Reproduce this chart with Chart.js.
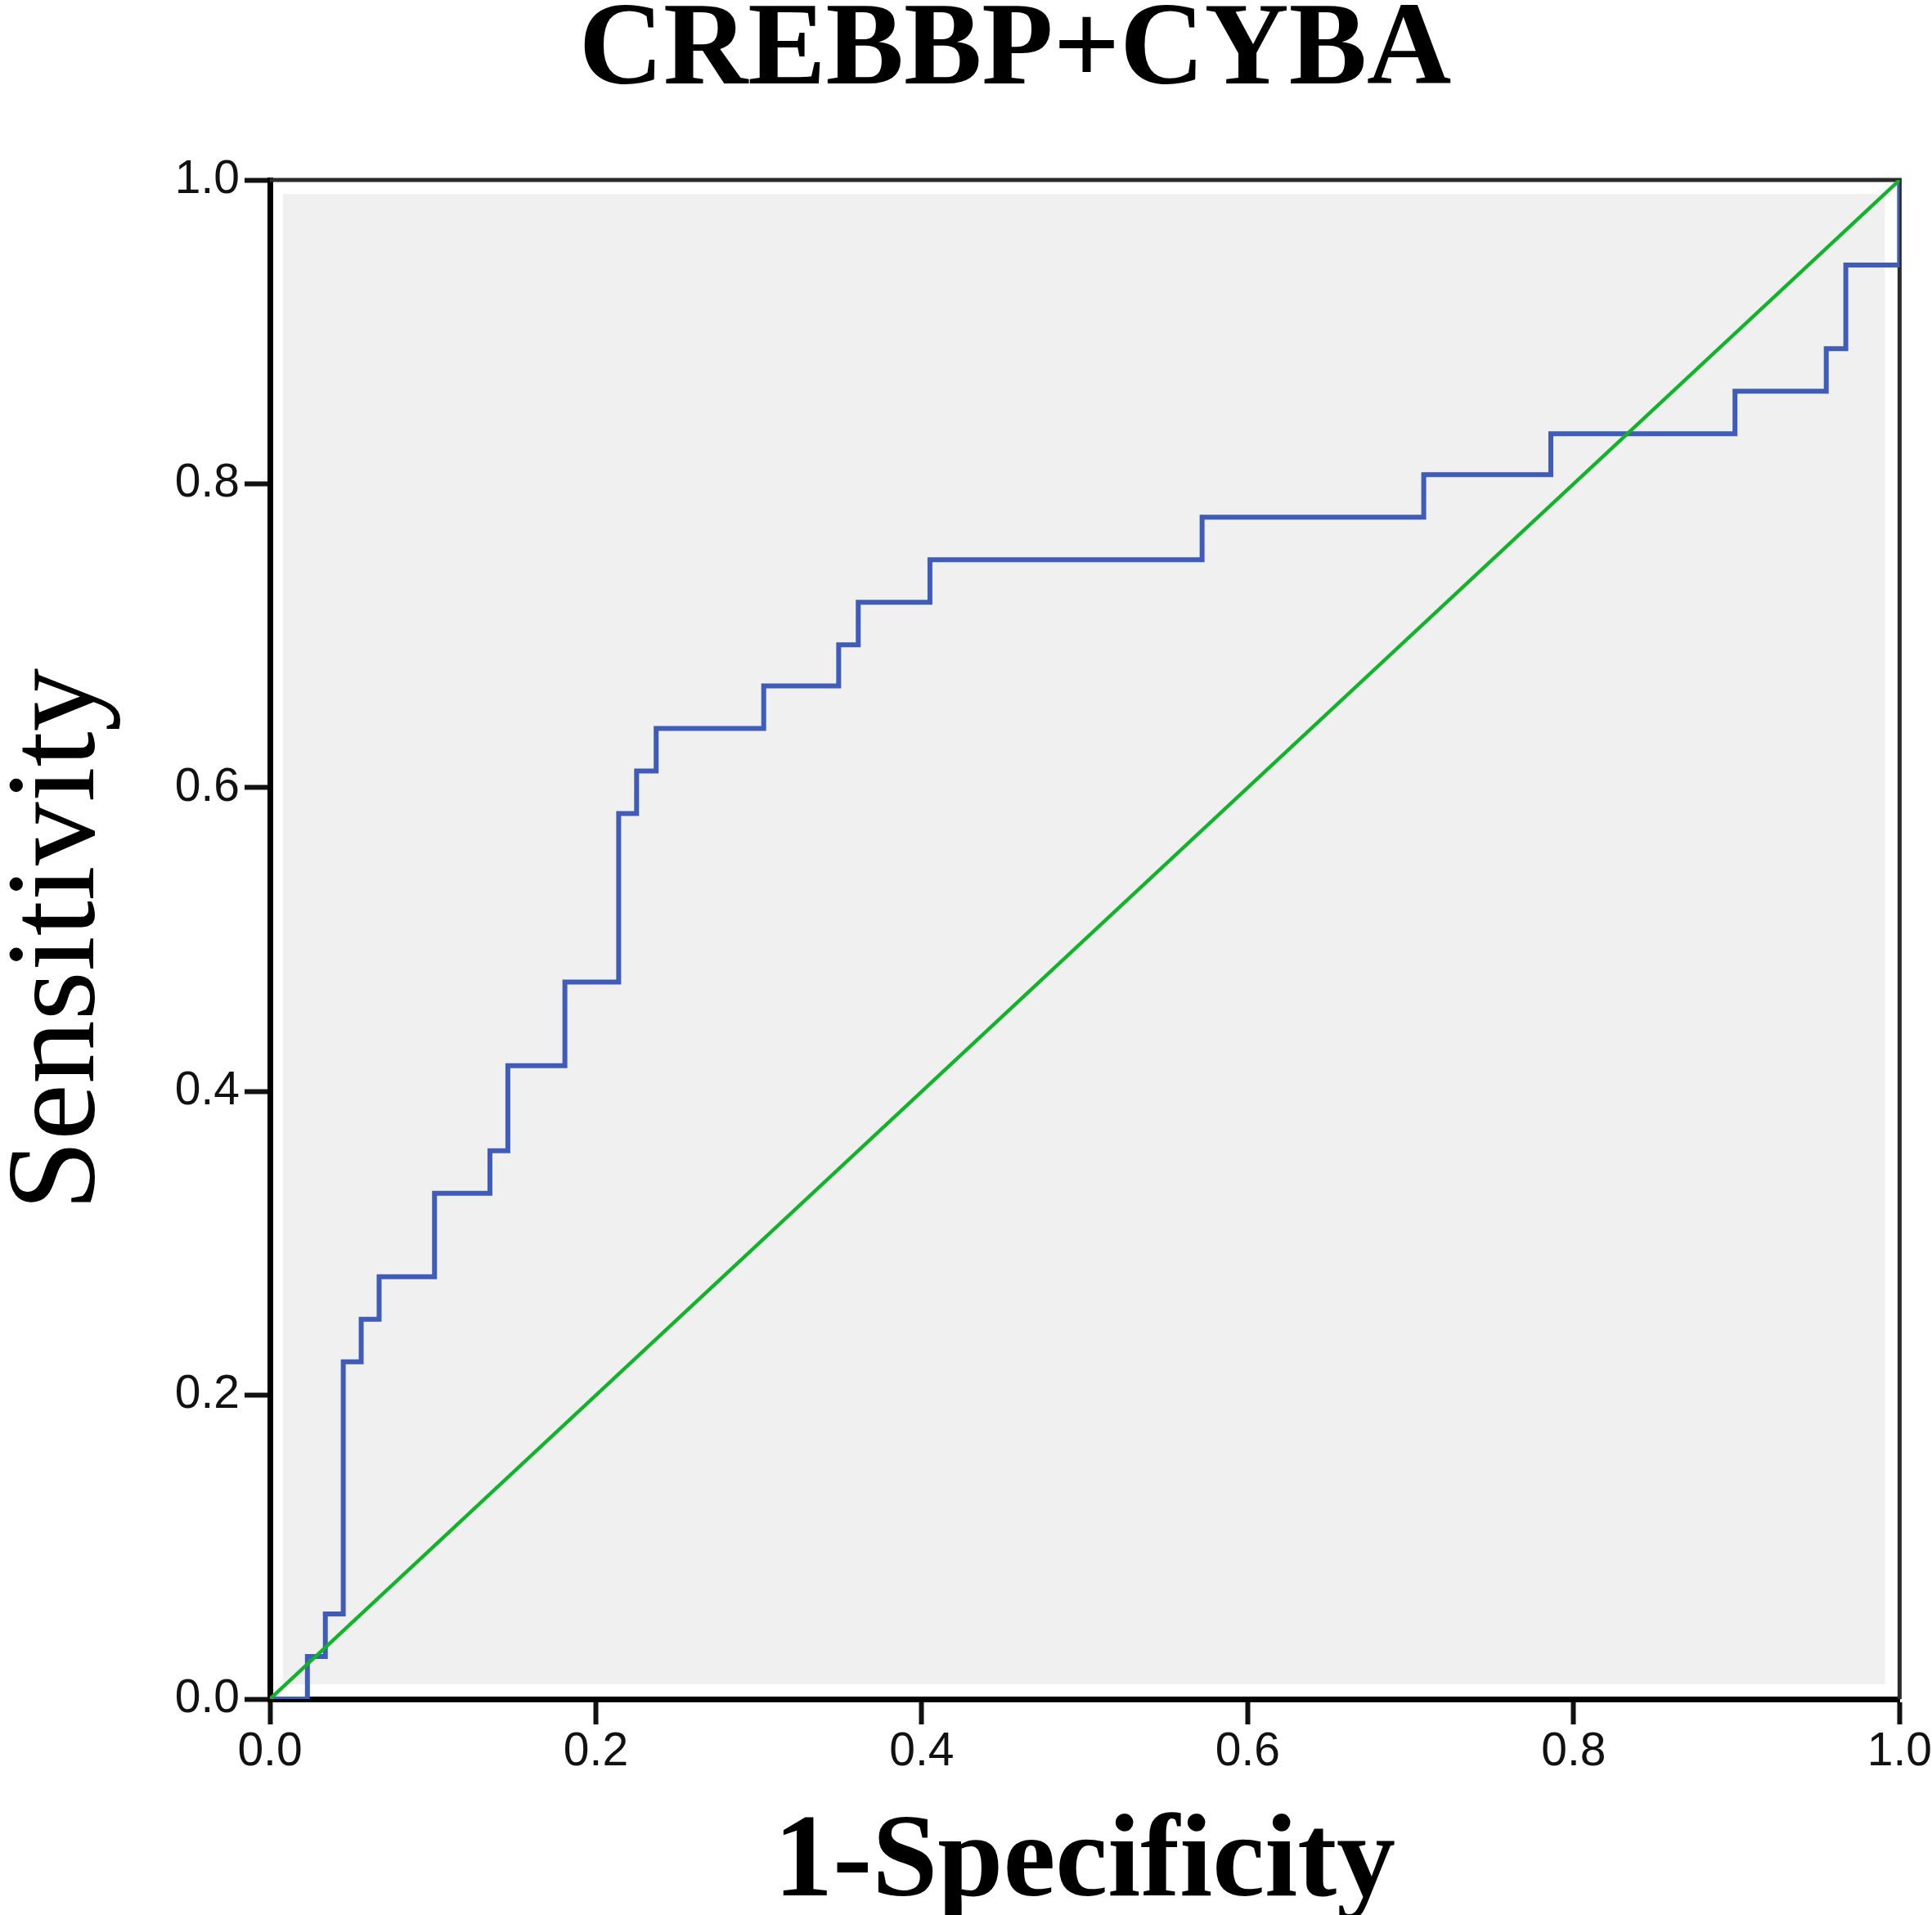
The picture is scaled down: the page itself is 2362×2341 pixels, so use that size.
<!DOCTYPE html>
<html>
<head>
<meta charset="utf-8">
<title>CREBBP+CYBA ROC</title>
<script src="https://cdn.jsdelivr.net/npm/chart.js@4"></script>
<style>
  html, body { margin: 0; padding: 0; background: #fff; }
  canvas { display: block; }
</style>
</head>
<body>
<canvas id="rocChart" width="2362" height="2341"></canvas>
<script>
// ROC curve: each point is the corner after a rise
const fpr = [0, 0.023, 0.034, 0.045, 0.056, 0.067, 0.101, 0.135, 0.146, 0.181, 0.214, 0.225,
             0.237, 0.303, 0.349, 0.361, 0.405, 0.572, 0.708, 0.786, 0.899, 0.955, 0.967, 1.0];
const tpr = [0, 0.028, 0.056, 0.222, 0.250, 0.278, 0.333, 0.361, 0.417, 0.472, 0.583, 0.611,
             0.639, 0.667, 0.694, 0.722, 0.750, 0.778, 0.806, 0.833, 0.861, 0.889, 0.944, 1.0];

// diagonal reference line
const refX = [0, 1];
const refY = [0, 1];

const axisTicks = [0, 0.2, 0.4, 0.6, 0.8, 1.0];

const chartTitle = 'CREBBP+CYBA';
const xTitle = '1-Specificity';
const yTitle = 'Sensitivity';

const serif = '"Liberation Serif", "Times New Roman", serif';
const sans = '"Liberation Sans", Arial, sans-serif';

// grey plot panel + thin top/right frame, like the SPSS output
const plotPanel = {
    id: 'plotPanel',
    beforeDraw(chart) {
        const { ctx, chartArea: a } = chart;
        ctx.save();
        ctx.fillStyle = '#ffffff';
        ctx.fillRect(0, 0, chart.width, chart.height);
        ctx.fillStyle = '#f0f0f0';
        ctx.fillRect(a.left + 16, a.top + 17, a.width - 34, a.height - 35);
        ctx.restore();
    },
    beforeDatasetsDraw(chart) {
        const { ctx, chartArea: a } = chart;
        ctx.save();
        ctx.strokeStyle = '#2b2b2b';
        ctx.lineWidth = 5;
        ctx.beginPath();
        ctx.moveTo(a.left, a.top);
        ctx.lineTo(a.right, a.top);
        ctx.lineTo(a.right, a.bottom);
        ctx.stroke();
        ctx.restore();
    }
};

const setTicks = scale => {
    scale.ticks = axisTicks.map(v => ({ value: v }));
};

const axisGrid = {
    drawOnChartArea: false,
    tickLength: 31,
    tickWidth: 6,
    tickColor: '#111'
};

const ctx = document.getElementById('rocChart').getContext('2d');
const rocChart = new Chart(ctx, {
    type: 'scatter',
    data: {
        datasets: [{
            label: 'Reference Line',
            data: refX.map((x, i) => ({ x: x, y: refY[i] })),
            showLine: true,
            borderColor: '#12b32b',
            borderWidth: 4.5,
            pointRadius: 0
        }, {
            label: 'ROC',
            data: fpr.map((x, i) => ({ x: x, y: tpr[i] })),
            showLine: true,
            stepped: 'before',
            borderColor: '#3e5cb8',
            borderWidth: 6,
            pointRadius: 0
        }]
    },
    options: {
        responsive: false,
        devicePixelRatio: 1,
        animation: false,
        layout: {
            padding: { left: 159, right: 39, top: 0, bottom: 0 }
        },
        plugins: {
            legend: { display: false },
            tooltip: { enabled: false },
            title: {
                display: true,
                text: chartTitle,
                color: '#000',
                font: { family: serif, size: 143, weight: 'bold', lineHeight: 0.7 },
                padding: { top: 15, bottom: 105 }
            }
        },
        scales: {
            x: {
                type: 'linear',
                min: 0,
                max: 1,
                afterBuildTicks: setTicks,
                afterFit: scale => { scale.height = 264; },
                grid: axisGrid,
                border: { color: '#000', width: 7 },
                ticks: {
                    color: '#111',
                    font: { family: sans, size: 57 },
                    padding: 0,
                    maxRotation: 0,
                    callback: v => v.toFixed(1)
                },
                title: {
                    display: true,
                    text: xTitle,
                    color: '#000',
                    font: { family: serif, size: 144, weight: 'bold', lineHeight: 1 },
                    padding: { top: 0, bottom: -11 }
                }
            },
            y: {
                type: 'linear',
                min: 0,
                max: 1,
                afterBuildTicks: setTicks,
                afterFit: scale => { scale.width = 171; },
                grid: axisGrid,
                border: { color: '#000', width: 7 },
                ticks: {
                    color: '#111',
                    font: { family: sans, size: 57 },
                    padding: 6,
                    callback: v => v.toFixed(1)
                },
                title: {
                    display: true,
                    text: yTitle,
                    color: '#000',
                    font: { family: serif, size: 155, lineHeight: 1 },
                    padding: { top: -163, bottom: 0 }
                }
            }
        }
    },
    plugins: [plotPanel]
});
</script>
</body>
</html>
